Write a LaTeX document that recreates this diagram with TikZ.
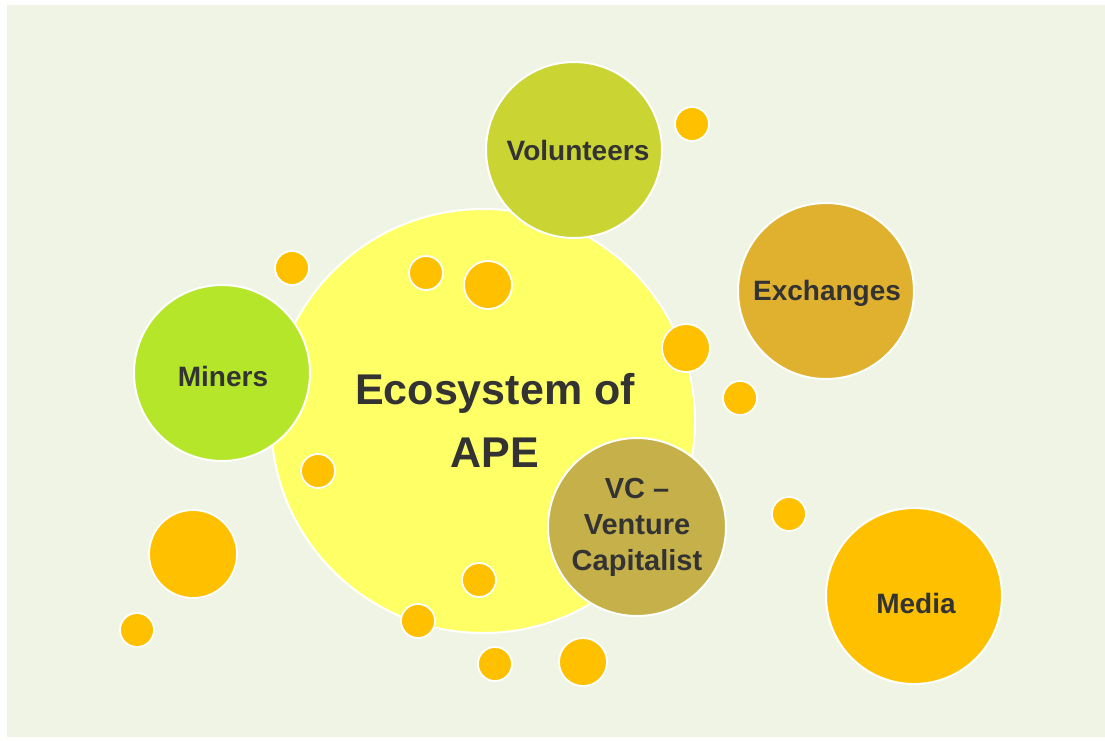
\documentclass[tikz,border=0pt]{standalone}
\usepackage{fontspec}
\setmainfont{Liberation Sans}
\begin{document}
\begin{tikzpicture}[x=1pt,y=-1pt,
  bubble/.style={circle,draw=white,line width=2pt,inner sep=0pt},
  caption/.style={text=inkgray,font=\bfseries\fontsize{28}{34}\selectfont,align=center},
  dot/.style={circle,draw=white,line width=1.8pt,fill=dotorange,inner sep=0pt}]
\definecolor{bg}{HTML}{EFF4E5}
\definecolor{inkgray}{HTML}{333333}
\definecolor{hub}{HTML}{FFFF66}
\definecolor{vol}{HTML}{CAD534}
\definecolor{exch}{HTML}{DFB12F}
\definecolor{mine}{HTML}{B5E62A}
\definecolor{vc}{HTML}{C5B04A}
\definecolor{dotorange}{HTML}{FFC000}
\useasboundingbox (0,0) rectangle (1105,740);
\fill[white] (0,0) rectangle (1105,740);
\fill[bg] (7,5) rectangle (1105,737);
% central hub
\node[bubble,fill=hub,minimum size=424pt] (hub) at (483,421) {};
% small decorative dots
\node[dot,minimum size=34pt] (d1) at (692,124) {};
\node[dot,minimum size=34pt] (d2) at (292,268) {};
\node[dot,minimum size=34pt] (d3) at (426,273) {};
\node[dot,minimum size=48pt] (d4) at (488,285) {};
\node[dot,minimum size=48pt] (d5) at (686,348) {};
\node[dot,minimum size=34pt] (d6) at (740,398) {};
\node[dot,minimum size=34pt] (d7) at (318,471) {};
\node[dot,minimum size=34pt] (d8) at (789,514) {};
\node[dot,minimum size=88pt] (d9) at (193,554) {};
\node[dot,minimum size=34pt] (d10) at (137,630) {};
\node[dot,minimum size=34pt] (d11) at (479,580) {};
\node[dot,minimum size=34pt] (d12) at (418,621) {};
\node[dot,minimum size=34pt] (d13) at (495,664) {};
\node[dot,minimum size=48pt] (d14) at (583,662) {};
% title of the hub
\node[text=inkgray,font=\bfseries\fontsize{43}{63}\selectfont,align=center] (title) at (495,420) {Ecosystem of\\APE};
% participants
\node[bubble,fill=vol,minimum size=176pt] (vol) at (574,150) {};
\node[caption] (volt) at (578,150) {Volunteers};
\node[bubble,fill=exch,minimum size=176pt] (exch) at (826,291) {};
\node[caption] (excht) at (827,293) {Exchanges};
\node[bubble,fill=mine,minimum size=176pt] (mine) at (222,373) {};
\node[caption] (minet) at (223,376) {Miners};
\node[bubble,fill=vc,minimum size=178pt] (vc) at (637,527) {};
\node[caption,font=\bfseries\fontsize{29}{36}\selectfont] (vct) at (637,527) {VC --\\Venture\\Capitalist};
\node[bubble,fill=dotorange,minimum size=176pt] (media) at (914,596) {};
\node[caption] (mediat) at (916,603) {Media};
\end{tikzpicture}
\end{document}
